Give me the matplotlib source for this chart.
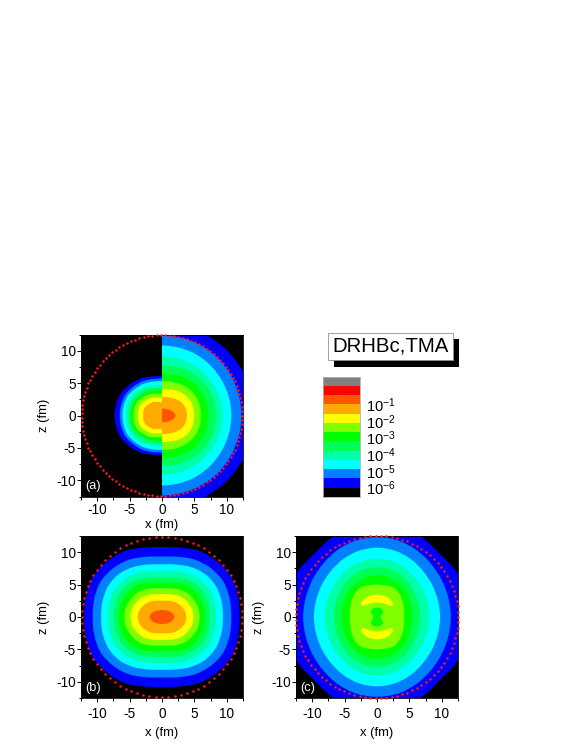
"""Density contours of the DRHBc,TMA calculation, three panels and a colour key."""
import matplotlib
matplotlib.use("Agg")
import matplotlib.pyplot as plt
import numpy as np
from matplotlib.patches import PathPatch, Rectangle
from matplotlib.path import Path

plt.rcParams["font.family"] = ["Liberation Sans", "DejaVu Sans"]
plt.rcParams["mathtext.default"] = "regular"
plt.rcParams["axes.unicode_minus"] = False

W, H = 581, 752

# key colours, top to bottom
KEY_COLORS = ["#808080", "#ff0000", "#ff5500", "#ffaa00", "#ffff00", "#80ff00", "#00ff00",
              "#00ff55", "#00ffaa", "#00ffff", "#0080ff", "#0000ff", "#000000"]
KEY_LABELS = ["$10^{-1}$", "$10^{-2}$", "$10^{-3}$", "$10^{-4}$", "$10^{-5}$", "$10^{-6}$"]

# contour colours, outermost level first
BLUE, AZURE, CYAN, AQUA, SPRING, GREEN, LIME, YELLOW, AMBER, ORANGE = KEY_COLORS[11:1:-1]
LEVELS = [BLUE, AZURE, CYAN, AQUA, SPRING, GREEN, LIME, YELLOW, AMBER, ORANGE]

# contour radius (fm) read at these polar angles, mirrored into the other quadrants
ANGLES = [0, 15, 30, 45, 60, 75, 90]

A_LEFT = [
    [7.3, 7.29, 7.2, 6.87, 6.6, 6.24, 6.1],
    [6.5, 6.52, 6.49, 6.27, 6.08, 5.82, 5.7],
    [6.1, 6.12, 6.08, 5.85, 5.65, 5.42, 5.3],
    [5.55, 5.58, 5.55, 5.31, 5.1, 4.81, 4.7],
    [5.15, 5.17, 5.13, 4.89, 4.69, 4.4, 4.3],
    [4.75, 4.77, 4.72, 4.48, 4.28, 3.99, 3.9],
    [4.4, 4.42, 4.35, 4.03, 3.79, 3.47, 3.35],
    [3.7, 3.73, 3.67, 3.38, 3.17, 2.85, 2.75],
    [2.9, 2.95, 2.88, 2.63, 2.42, 2.17, 2.05],
]
A_RIGHT = [
    [14.2, 14.2, 14.2, 14.2, 14.2, 14.2, 14.2],
    [12.25, 12.25, 12.3, 12.35, 12.35, 12.35, 12.35],
    [10.7, 10.7, 10.7, 10.75, 10.8, 10.8, 10.8],
    [9.35, 9.35, 9.3, 9.25, 9.2, 9.15, 9.1],
    [8.3, 8.32, 8.27, 8.15, 8.0, 7.8, 7.7],
    [7.15, 7.17, 7.12, 7.0, 6.8, 6.55, 6.45],
    [6.0, 6.02, 5.98, 5.82, 5.6, 5.4, 5.3],
    [4.95, 4.98, 4.92, 4.72, 4.43, 4.18, 4.1],
    [3.85, 3.82, 3.68, 3.4, 3.12, 2.92, 2.85],
    [2.05, 1.88, 1.57, 1.32, 1.17, 1.08, 1.05],
]
B_LEVELS = [
    [12.0, 12.15, 12.34, 12.07, 11.71, 11.1, 10.8],
    [10.7, 10.81, 10.93, 10.65, 10.2, 9.62, 9.33],
    [9.4, 9.5, 9.58, 9.38, 8.9, 8.38, 8.14],
    [8.35, 8.43, 8.48, 8.2, 7.82, 7.33, 7.1],
    [7.4, 7.46, 7.47, 7.2, 6.8, 6.34, 6.13],
    [6.65, 6.65, 6.55, 6.35, 5.95, 5.5, 5.3],
    [5.8, 5.78, 5.55, 5.32, 4.95, 4.57, 4.43],
    [4.85, 4.8, 4.55, 4.3, 3.95, 3.65, 3.56],
    [3.75, 3.65, 3.4, 3.12, 2.85, 2.6, 2.53],
    [1.9, 1.78, 1.54, 1.33, 1.18, 1.1, 1.08],
]
C_LEVELS = [
    [14.3, 14.3, 14.1, 13.75, 14.1, 14.3, 14.3],
    [11.4, 11.4, 11.5, 11.7, 12.0, 12.25, 12.3],
    [9.74, 9.75, 9.85, 10.05, 10.35, 10.6, 10.7],
    [8.1, 8.1, 8.2, 8.4, 8.7, 8.95, 9.0],
    [6.65, 6.7, 6.85, 7.1, 7.45, 7.65, 7.7],
    [5.5, 5.55, 5.7, 5.95, 6.2, 6.4, 6.45],
    [4.2, 4.3, 4.6, 4.95, 5.2, 5.05, 5.0],
]
# panel (c) also has a yellow arc above and below the centre and a green dumbbell
C_ARC_X = [-2.45, -1.8, -1.0, 0.0, 1.0, 1.8, 2.45, 2.2, 1.5, 0.7, 0.0, -0.7, -1.5, -2.2]
C_ARC_Z = [2.15, 2.9, 3.3, 3.45, 3.3, 2.9, 2.15, 1.7, 1.95, 2.15, 2.25, 2.15, 1.95, 1.7]
C_BLOB_X = [0.0, 0.6, 0.95, 0.7, 0.5, 0.7, 0.95, 0.6, 0.0, -0.6, -0.95, -0.7, -0.5, -0.7, -0.95, -0.6]
C_BLOB_Z = [1.45, 1.3, 0.85, 0.35, 0.0, -0.35, -0.85, -1.3, -1.45, -1.3, -0.85, -0.35, 0.0, 0.35, 0.85, 1.3]

TICKS = [-10, -5, 0, 5, 10]
MINOR_TICKS = [-12.5, -7.5, -2.5, 2.5, 7.5, 12.5]


def px_axes(left, top, right, bottom):
    return fig.add_axes([left / W, 1 - bottom / H, (right - left) / W, (bottom - top) / H])


def smooth_patch(x, z, color):
    """Closed Catmull-Rom curve through the points, as a filled patch."""
    p = np.column_stack([x, z])
    verts = [p[0]]
    codes = [Path.MOVETO]
    for i in range(len(p)):
        p0, p1, p2, p3 = p[i - 1], p[i], p[(i + 1) % len(p)], p[(i + 2) % len(p)]
        verts += [p1 + (p2 - p0) / 6, p2 - (p3 - p1) / 6, p2]
        codes += [Path.CURVE4] * 3
    return PathPatch(Path(verts, codes), facecolor=color, edgecolor="none", lw=0)


def level_patch(radii, color):
    """Mirror the first-quadrant radii into a closed contour."""
    ang = np.radians(ANGLES)
    r = np.array(radii)
    theta = np.concatenate([ang, np.pi - ang[-2::-1], np.pi + ang[1:], 2 * np.pi - ang[-2:0:-1]])
    rr = np.concatenate([r, r[-2::-1], r[1:], r[-2:0:-1]])
    return smooth_patch(rr * np.cos(theta), rr * np.sin(theta), color)


def setup_panel(ax, label, xlabel_y, x_pad):
    ax.set_facecolor("black")
    ax.set_xlim(-12.5, 12.5)
    ax.set_ylim(-12.5, 12.5)
    ax.set_xticks(TICKS)
    ax.set_yticks(TICKS)
    ax.set_xticks(MINOR_TICKS, minor=True)
    ax.set_yticks(MINOR_TICKS, minor=True)
    ax.tick_params(which="major", length=3.2, width=0.7, labelsize=9.8)
    ax.tick_params(which="minor", length=1.8, width=0.7)
    ax.tick_params(axis="x", which="major", pad=x_pad)
    ax.tick_params(axis="y", which="major", pad=0.5)
    for spine in ax.spines.values():
        spine.set_linewidth(0.6)
    ax.set_xlabel("x (fm)", fontsize=9.4)
    ax.set_ylabel("z (fm)", fontsize=9.4)
    ax.xaxis.set_label_coords(0.5, xlabel_y)
    ax.yaxis.set_label_coords(-0.19, 0.5)
    ax.text(-11.9, -10.9, label, color="white", fontsize=9.2, ha="left", va="center")


def red_circle(ax, radius, n_dots):
    theta = np.linspace(0, 2 * np.pi, n_dots, endpoint=False)
    ax.plot(radius * np.cos(theta), radius * np.sin(theta), ls="none", marker="o", ms=1.8,
            mfc="#ff1a1a", mec="none", clip_on=False, zorder=5)


fig = plt.figure(figsize=(W / 100, H / 100), dpi=100)

# ── Panel (a): left and right halves hold different contours ─────────────────
ax_a = px_axes(81, 334.5, 243, 496.5)
for radii, color in zip(A_LEFT, LEVELS):
    patch = ax_a.add_patch(level_patch(radii, color))
    patch.set_clip_path(Rectangle((-12.5, -12.5), 12.5, 25, transform=ax_a.transData))
for radii, color in zip(A_RIGHT, LEVELS):
    patch = ax_a.add_patch(level_patch(radii, color))
    patch.set_clip_path(Rectangle((0, -12.5), 12.5, 25, transform=ax_a.transData))
red_circle(ax_a, 12.4, 115)
setup_panel(ax_a, "(a)", -0.139, 1.8)

# ── Panel (b) ────────────────────────────────────────────────────────────────
ax_b = px_axes(81, 536, 243, 698)
for radii, color in zip(B_LEVELS, LEVELS):
    ax_b.add_patch(level_patch(radii, color))
red_circle(ax_b, 12.4, 80)
setup_panel(ax_b, "(b)", -0.179, 3.3)

# ── Panel (c) ────────────────────────────────────────────────────────────────
ax_c = px_axes(296, 536, 458, 698)
for radii, color in zip(C_LEVELS, LEVELS):
    ax_c.add_patch(level_patch(radii, color))
ax_c.add_patch(smooth_patch(C_ARC_X, C_ARC_Z, YELLOW))
ax_c.add_patch(smooth_patch(C_ARC_X, [-z for z in C_ARC_Z], YELLOW))
ax_c.add_patch(smooth_patch(C_BLOB_X, C_BLOB_Z, GREEN))
red_circle(ax_c, 12.55, 95)
setup_panel(ax_c, "(c)", -0.179, 3.3)

# ── Colour key ───────────────────────────────────────────────────────────────
ax_key = px_axes(323, 376.7, 360, 497)
ax_key.bar(0, [1] * len(KEY_COLORS), width=1, bottom=np.arange(len(KEY_COLORS))[::-1], color=KEY_COLORS)
ax_key.set_xlim(-0.5, 0.5)
ax_key.set_ylim(0, len(KEY_COLORS))
ax_key.set_xticks([])
ax_key.set_yticks([])
for spine in ax_key.spines.values():
    spine.set_linewidth(0.6)
    spine.set_color("#b0b0b0")
for i, label in enumerate(KEY_LABELS):
    fig.text(366.5 / W, 1 - (405.5 + 16.7 * i) / H, label, fontsize=10.5, ha="left", va="center")

# ── Title box with drop shadow ───────────────────────────────────────────────
ax_box = px_axes(0, 0, W, H)
ax_box.set_xlim(0, W)
ax_box.set_ylim(H, 0)
ax_box.axis("off")
ax_box.add_patch(Rectangle((334, 339), 124.5, 27.5, fc="black", ec="none"))
ax_box.add_patch(Rectangle((328, 332.5), 124.5, 27.5, fc="white", ec="#909090", lw=0.6))
ax_box.text(390.3, 346.5, "DRHBc,TMA", fontsize=14.7, ha="center", va="center")

fig.savefig("out.png", dpi=100)
